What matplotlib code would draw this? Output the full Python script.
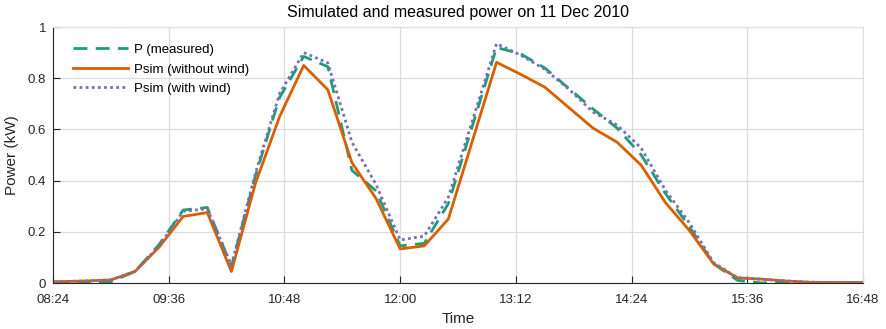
import numpy as np
import pandas as pd
import matplotlib
matplotlib.use("Agg")
import matplotlib.pyplot as plt
import matplotlib.dates as mdates

plt.rcParams['font.family'] = ['Liberation Sans', 'DejaVu Sans']

# data (kW)
heures = ['08:25', '08:45', '09:00', '09:15', '09:30', '09:45', '10:00', '10:15',
          '10:30', '10:45', '11:00', '11:15', '11:30', '11:45', '12:00', '12:15',
          '12:30', '13:00', '13:15', '13:30', '13:45', '14:00', '14:15', '14:30',
          '14:45', '15:00', '15:15', '15:30', '15:45', '16:00', '16:15', '16:30', '16:48']
p_mesure = [0.0, 0.0, 0.005, 0.045, 0.15, 0.285, 0.295, 0.065, 0.42, 0.725, 0.885, 0.845,
            0.44, 0.36, 0.145, 0.155, 0.31, 0.92, 0.895, 0.84, 0.76, 0.68, 0.605, 0.50,
            0.35, 0.22, 0.075, 0.01, 0.0, 0.005, 0.0, 0.0, 0.0]
psim_sans_vent = [0.005, 0.008, 0.012, 0.045, 0.14, 0.26, 0.275, 0.045, 0.39, 0.65, 0.85, 0.755,
                  0.47, 0.33, 0.133, 0.145, 0.25, 0.862, 0.815, 0.765, 0.685, 0.605, 0.55, 0.46,
                  0.315, 0.205, 0.075, 0.02, 0.015, 0.008, 0.003, 0.002, 0.002]
psim_avec_vent = [0.005, 0.008, 0.012, 0.045, 0.145, 0.28, 0.29, 0.07, 0.43, 0.74, 0.9, 0.86,
                  0.55, 0.385, 0.168, 0.183, 0.335, 0.935, 0.89, 0.835, 0.757, 0.668, 0.617, 0.527,
                  0.363, 0.235, 0.08, 0.02, 0.015, 0.008, 0.003, 0.002, 0.002]
legendes = ['P (measured)', 'Psim (without wind)', 'Psim (with wind)']

t = pd.to_datetime(['2010-12-11 ' + h for h in heures])
ticks = pd.date_range('2010-12-11 08:24', '2010-12-11 16:48', freq='72min')

fig = plt.figure(figsize=(8.86, 3.29), dpi=100)
ax = fig.add_axes([53/886, 1 - 283/329, 810/886, 256/329])

ax.plot(t, p_mesure, color='#1b9e77', ls=(0, (5, 3)), lw=2, label=legendes[0])
ax.plot(t, psim_sans_vent, color='#d95f02', ls='-', lw=2, label=legendes[1])
ax.plot(t, psim_avec_vent, color='#7570b3', ls=(0, (1, 1.2)), lw=2, label=legendes[2])

ax.set_xlim(ticks[0], ticks[-1])
ax.set_ylim(0, 1)
ax.set_xticks(ticks)
ax.xaxis.set_major_formatter(mdates.DateFormatter('%H:%M'))
ax.set_yticks([0, 0.2, 0.4, 0.6, 0.8, 1])
ax.set_yticklabels(['0', '0.2', '0.4', '0.6', '0.8', '1'])

ax.grid(True, color='#dcdcdc', lw=0.9)
ax.set_axisbelow(True)
for s in ['top', 'right']:
    ax.spines[s].set_color('#dcdcdc')
for s in ['left', 'bottom']:
    ax.spines[s].set_color('#262626')
ax.tick_params(direction='in', length=5, colors='#262626', labelsize=9.5)
ax.tick_params(axis='x', pad=8)
ax.tick_params(axis='y', pad=5)

ax.set_xlabel('Time', fontsize=11, color='#262626', labelpad=4)
ax.set_ylabel('Power (kW)', fontsize=11, color='#262626', labelpad=6)
ax.set_title('Simulated and measured power on 11 Dec 2010', fontsize=11.5, color='black', pad=7)

ax.legend(loc='upper left', frameon=False, fontsize=9.5, handlelength=4.2,
          handletextpad=0.4, labelspacing=0.55, borderaxespad=0.0, bbox_to_anchor=(0.018, 0.955))

fig.savefig('out.png', dpi=100)
